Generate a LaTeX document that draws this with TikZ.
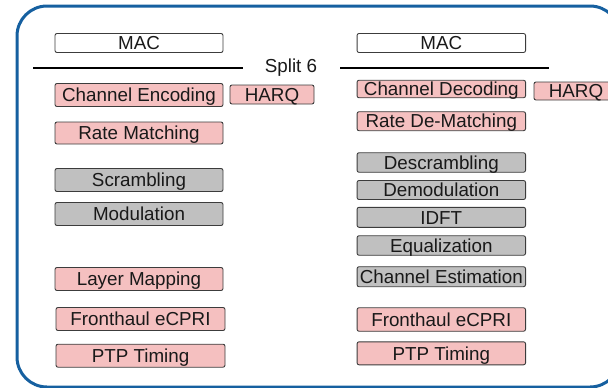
\documentclass[tikz,border=0pt]{standalone}
\usepackage{fontspec}
\setmainfont{Liberation Sans}
\definecolor{framecol}{RGB}{22,96,160}
\definecolor{pinkfill}{RGB}{245,192,192}
\definecolor{grayfill}{RGB}{192,192,192}
\definecolor{edgecol}{RGB}{60,60,60}
\begin{document}
\begin{tikzpicture}[x=1pt,y=-1pt,
  blk/.style={draw=edgecol, line width=0.9pt, rounded corners=2pt, inner sep=0pt,
    font=\fontsize{18.8}{22}\selectfont, text=black!90, anchor=center,
    text height=13.4pt, text depth=0pt},
  whitebox/.style={blk, fill=white},
  pinkbox/.style={blk, fill=pinkfill},
  graybox/.style={blk, fill=grayfill},
  splitline/.style={line width=2pt, black},
  frame/.style={draw=framecol, line width=3pt, rounded corners=30pt}]
\useasboundingbox (0,0) rectangle (608,388);
\clip (0,0) rectangle (608,388);
\draw[frame] (17,6) rectangle (620,387);
% split lines and label
\coordinate (lA) at (33,68); \coordinate (lB) at (243,68);
\draw[splitline] (lA) -- (lB);
\node[font=\fontsize{18.8}{22}\selectfont, text=black!90, inner sep=0pt,
  text height=13.4pt, text depth=0pt] (split) at (291,66) {Split 6};
\coordinate (rA) at (340,68); \coordinate (rB) at (549,68);
\draw[splitline] (rA) -- (rB);
% left column
\node[whitebox, minimum width=168pt, minimum height=19pt] (macL) at (139,43) {MAC};
\node[pinkbox, minimum width=168pt, minimum height=23pt] (ce) at (139,95) {Channel Encoding};
\node[pinkbox, minimum width=84pt, minimum height=19pt] (harqL) at (272,94.5) {HARQ};
\node[pinkbox, minimum width=168pt, minimum height=22pt] (rm) at (139,133) {Rate Matching};
\node[graybox, minimum width=168pt, minimum height=23pt] (scr) at (139,180) {Scrambling};
\node[graybox, minimum width=168pt, minimum height=23pt] (mod) at (139,214) {Modulation};
\node[pinkbox, minimum width=168pt, minimum height=23pt] (lm) at (139,279) {Layer Mapping};
\node[pinkbox, minimum width=169pt, minimum height=23pt] (fhL) at (140.5,319) {Fronthaul eCPRI};
\node[pinkbox, minimum width=169pt, minimum height=23pt] (ptpL) at (140.5,355.7) {PTP Timing};
% right column
\node[whitebox, minimum width=168.5pt, minimum height=19pt] (macR) at (441.3,43) {MAC};
\node[pinkbox, minimum width=168.5pt, minimum height=17.5pt] (cd) at (441.3,89) {Channel Decoding};
\node[pinkbox, minimum width=84pt, minimum height=18pt] (harqR) at (576,91) {HARQ};
\node[pinkbox, minimum width=168.5pt, minimum height=19pt] (rdm) at (441.3,121.2) {Rate De-Matching};
\node[graybox, minimum width=168.5pt, minimum height=19.5pt] (dscr) at (441.3,162.5) {Descrambling};
\node[graybox, minimum width=168.5pt, minimum height=19pt] (dmod) at (441.3,190) {Demodulation};
\node[graybox, minimum width=168.5pt, minimum height=20pt] (idft) at (441.3,217.3) {IDFT};
\node[graybox, minimum width=168.5pt, minimum height=19.5pt] (eq) at (441.3,245.5) {Equalization};
\node[graybox, minimum width=168.5pt, minimum height=20pt] (chest) at (441.3,276.7) {Channel Estimation};
\node[pinkbox, minimum width=168.5pt, minimum height=23.5pt] (fhR) at (441.3,319.5) {Fronthaul eCPRI};
\node[pinkbox, minimum width=168.5pt, minimum height=23pt] (ptpR) at (441.3,353.3) {PTP Timing};
\end{tikzpicture}
\end{document}
